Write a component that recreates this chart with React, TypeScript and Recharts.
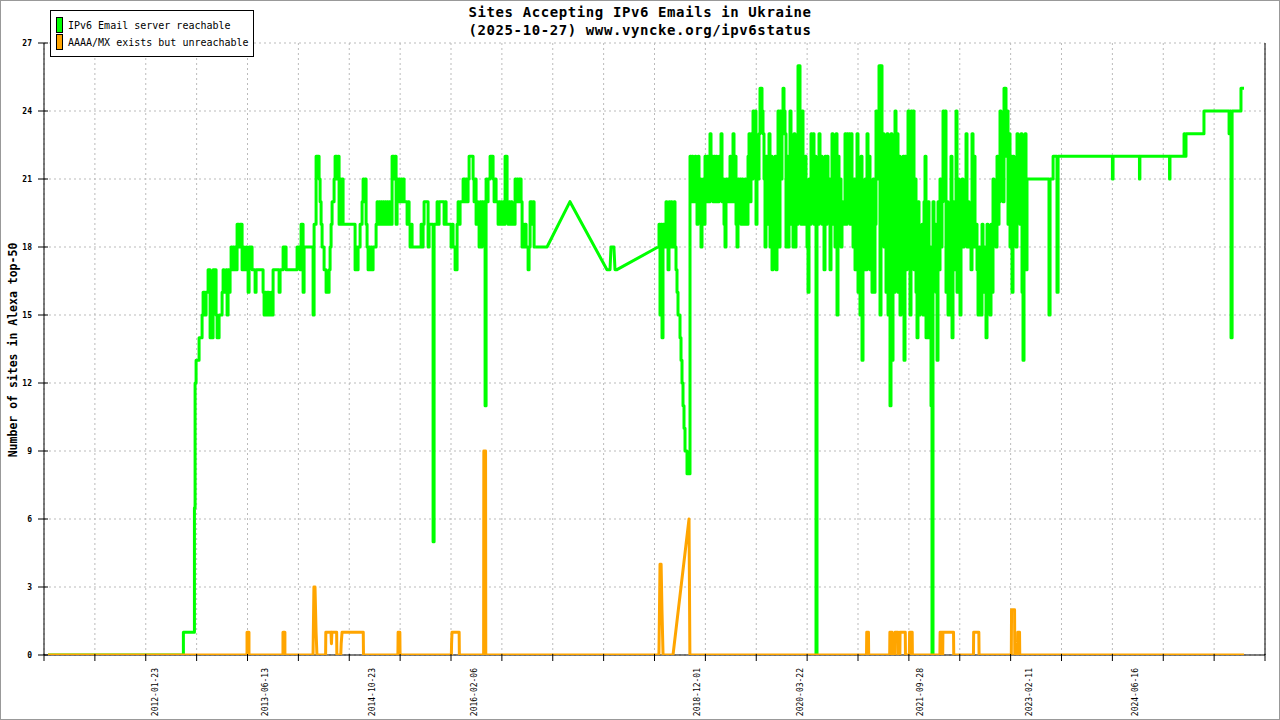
import React from 'react';
import { LineChart, Line, XAxis, YAxis, CartesianGrid, ReferenceLine } from 'recharts';

// x values are days since BASE_DATE
const BASE_DATE = '2010-08-28';
const DOMAIN_DAYS = 5641;
const SAMPLE_DAYS = 4.62;

const X_LABEL_DATES = ['2012-01-23', '2013-06-13', '2014-10-23', '2016-02-06', '2018-12-01', '2020-03-22', '2021-09-28', '2023-02-11', '2024-06-16'];
const Y_TICKS = [0, 3, 6, 9, 12, 15, 18, 21, 24, 27];

// IPv6 Email server reachable
const greenLeadDays = [18.5, 642, 644, 693, 695];
const greenLeadValues = [0, 0, 1, 1, 6.5];

const GREEN_BLOCK1_START = 698;
const greenBlock1 = [
  12, 13, 13, 13, 14, 14, 14, 15, 16, 16,
  15, 16, 16, 17, 17, 14, 14, 14, 17, 17,
  17, 15, 14, 14, 15, 15, 15, 16, 17, 16,
  16, 17, 15, 17, 16, 17, 18, 17, 18, 17,
  18, 17, 19, 19, 18, 19, 19, 17, 18, 17,
  17, 18, 17, 16, 18, 18, 18, 17, 17, 17,
  16, 17, 17, 17, 17, 17, 17, 17, 16, 15,
  16, 15, 16, 16, 15, 15, 16, 15, 17, 17,
  17, 17, 17, 17, 16, 17, 17, 17, 18, 18,
  18, 17, 17, 17, 17, 17, 17, 17, 17, 17,
  17, 17, 18, 18, 18, 17, 19, 19, 16, 18,
  18, 18, 18, 18, 18, 18, 18, 18, 15, 19,
  19, 22, 22, 22, 21, 20, 19, 18, 18, 17,
  17, 16, 16, 16, 17, 18, 19, 20, 20, 21,
  22, 22, 21, 22, 19, 21, 19, 21, 19, 19,
  19, 19, 19, 19, 19, 19, 19, 19, 19, 19,
  17, 18, 17, 18, 18, 19, 19, 20, 21, 20,
  21, 19, 18, 17, 18, 17, 18, 17, 18, 18,
  18, 19, 20, 19, 20, 19, 20, 19, 20, 19,
  20, 19, 20, 19, 20, 19, 19, 22, 22, 21,
  22, 19, 21, 20, 21, 20, 21, 20, 21, 20,
  20, 20, 19, 20, 19, 18, 19, 18, 18, 18,
  18, 18, 18, 18, 18, 18, 19, 18, 19, 20,
  20, 20, 20, 18, 19, 19, 19, 19, 5, 19,
  19, 19, 20, 19, 20, 20, 20, 20, 20, 19,
  20, 19, 19, 19, 19, 19, 18, 19, 18, 18,
  17, 17, 19, 20, 19, 20, 20, 20, 21, 21,
  20, 21, 20, 21, 22, 22, 22, 22, 21, 20,
  21, 19, 20, 19, 18, 20, 18, 20, 19, 20,
  11, 21, 20, 21, 21, 22, 22, 22, 21, 20,
  21, 20, 20, 19, 20, 19, 20, 19, 20, 19,
  22, 22, 20, 19, 20, 19, 20, 19, 19, 19,
  21, 20, 21, 20, 21, 21, 20, 18, 19, 18,
  19, 18, 18, 17, 18, 20, 20, 19, 20, 18, 18,
];

const greenMidDays = [2324, 2430, 2601, 2615, 2619.5, 2633, 2638, 2647];
const greenMidValues = [18, 20, 17, 17, 18, 18, 17, 17];

const GREEN_BLOCK2_START = 2836.7;
const greenBlock2 = [
  18, 19, 15, 19, 14, 19, 19, 18, 20, 19, 17, 20, 18, 20, 19, 18,
  20, 18, 17, 16, 15, 15, 14, 13, 12, 11, 10, 9, 9, 8, 8, 8,
  22, 20, 22, 21, 20, 22, 21, 19, 22, 20,
  21, 18, 20, 21, 19, 22, 20, 22, 21, 20,
  23, 21, 22, 20, 22, 20, 22, 21, 20, 22,
  21, 23, 20, 21, 19, 18, 21, 20, 21, 20,
  22, 20, 21, 23, 20, 22, 19, 18, 21, 20,
  21, 19, 21, 20, 19, 21, 20, 19, 22, 23,
  20, 23, 21, 24, 22, 24, 19, 22, 21, 23,
  25, 25, 24, 23, 21, 18, 22, 19, 21, 23,
  18, 22, 17, 21, 18, 22, 17, 20, 24, 18,
  24, 21, 23, 25, 24, 23, 18, 22, 18, 21,
  24, 19, 22, 18, 23, 18, 21, 19, 26, 26,
  24, 19, 24, 22, 19, 22, 20, 18, 16, 21,
  19, 23, 20, 23, 19, 22, 0, 19, 19, 23,
  20, 22, 19, 21, 17, 22, 19, 22, 20, 21,
  17, 20, 23, 19, 21, 18, 23, 15, 22, 19,
  21, 18, 20, 19, 20, 23, 19, 23, 20, 23,
  19, 23, 21, 18, 21, 17, 21, 23, 16, 20,
  15, 22, 13, 20, 17, 21, 17, 23, 19, 22,
  17, 20, 16, 21, 16, 19, 24, 21, 23, 26,
  15, 26, 21, 23, 18, 22, 16, 23, 15, 20,
  11, 23, 13, 21, 16, 24, 17, 23, 16, 22,
  15, 20, 18, 22, 13, 22, 17, 20, 24, 18,
  15, 24, 19, 24, 17, 21, 16, 14, 20, 15,
  18, 16, 19, 15, 20, 22, 14, 19, 20, 14,
  18, 11, 0, 20, 17, 19, 16, 13, 20, 17,
  21, 18, 20, 24, 21, 24, 16, 20, 15, 19,
  15, 22, 14, 20, 17, 19, 24, 16, 21, 17,
  15, 19, 21, 18, 20, 19, 23, 18, 20, 18,
  19, 17, 23, 18, 22, 18, 19, 17, 15, 18,
  17, 15, 19, 16, 18, 17, 14, 19, 16, 18,
  15, 19, 16, 21, 19, 20, 18, 22, 19, 20,
  24, 21, 23, 20, 25, 25, 22, 24, 19, 23,
  18, 22, 16, 22, 19, 21, 18, 23, 20, 22,
  19, 23, 16, 13, 20, 23, 17, 21, 21,
];

const greenTailDays = [4638, 4643, 4648, 4657, 4662, 4675, 4680, 4685, 4934, 4936, 4939, 5059, 5061, 5063, 5197, 5200, 5202, 5262, 5267, 5271, 5276, 5355, 5359, 5470, 5475, 5479, 5484, 5489, 5521, 5530, 5544];
const greenTailValues = [21, 15, 21, 21, 22, 22, 16, 22, 22, 21, 22, 22, 21, 22, 22, 21, 22, 22, 23, 22, 23, 23, 24, 24, 23, 24, 14, 24, 24, 25, 25];

// AAAA/MX exists but unreachable
const orangeDays = [
  18.5,
  938, 938, 947, 947,
  1104, 1104, 1113, 1113,
  1243, 1247, 1252, 1257, 1261,
  1301, 1302, 1326, 1328, 1330, 1352, 1353,
  1371, 1373, 1377, 1475, 1476,
  1635, 1636, 1644, 1645,
  1882, 1883, 1885, 1918, 1919,
  2031, 2032, 2040, 2041,
  2841, 2846, 2851, 2855, 2860,
  2906, 2980, 2984,
  3800, 3801, 3809, 3810,
  3907, 3908, 3918, 3919,
  3931, 3932, 3945, 3946,
  3954, 3955, 3979, 3980,
  3998, 3999, 4011, 4012,
  4139, 4140, 4148, 4149, 4152, 4153, 4202, 4203,
  4294, 4295, 4319, 4320,
  4469, 4470, 4484, 4485,
  4498, 4499, 4507, 4508,
  5544,
];
const orangeValues = [
  0,
  0, 1, 1, 0,
  0, 1, 1, 0,
  0, 3, 3, 1, 0,
  0, 1, 1, 0.5, 1, 1, 0,
  0, 0.5, 1, 1, 0,
  0, 1, 1, 0,
  0, 0.5, 1, 1, 0,
  0, 9, 9, 0,
  0, 4, 4, 2, 0,
  0, 6, 0,
  0, 1, 1, 0,
  0, 1, 1, 0,
  0, 1, 1, 0,
  0, 1, 1, 0,
  0, 1, 1, 0,
  0, 1, 1, 0, 0, 1, 1, 0,
  0, 1, 1, 0,
  0, 2, 2, 0,
  0, 1, 1, 0,
  0,
];

type Pt = { d: number; v: number };
const pairs = (days: number[], vals: number[]): Pt[] => days.map((d, i) => ({ d, v: vals[i] }));
const block = (start: number, vals: number[]): Pt[] => vals.map((v, i) => ({ d: start + i * SAMPLE_DAYS, v }));

const block1 = block(GREEN_BLOCK1_START, greenBlock1);
const block2 = block(GREEN_BLOCK2_START, greenBlock2);
const greenStepA: Pt[] = [...pairs(greenLeadDays, greenLeadValues), ...block1];
const greenMid: Pt[] = [block1[block1.length - 1], ...pairs(greenMidDays, greenMidValues), block2[0]];
const greenStepB: Pt[] = [...block2, ...pairs(greenTailDays, greenTailValues)];
const orangeData: Pt[] = pairs(orangeDays, orangeValues);

const dayOf = (s: string) => (Date.parse(s + 'T00:00:00Z') - Date.parse(BASE_DATE + 'T00:00:00Z')) / 86400000;
const labelDays = X_LABEL_DATES.map(dayOf);
const xTicks = Array.from({ length: 25 }, (_, k) => (k * DOMAIN_DAYS) / 24);

const labelFor = (v: number) => {
  let best = 0;
  labelDays.forEach((d, i) => {
    if (Math.abs(d - v) < Math.abs(labelDays[best] - v)) best = i;
  });
  return X_LABEL_DATES[best];
};

const MONO = '"DejaVu Sans Mono", monospace';

const YTick = (props: any) => {
  const { x, y, payload } = props;
  return (
    <g>
      <line x1={x - 6} x2={x + 4} y1={y} y2={y} stroke="#000" strokeWidth={1} />
      <text x={x - 12} y={y} dy="0.35em" textAnchor="end" fontFamily={MONO} fontSize={8} fontWeight="bold" fill="#000">
        {payload.value}
      </text>
    </g>
  );
};

const XTickMark = (props: any) => {
  const { x, y } = props;
  return <line x1={x} x2={x} y1={y - 1} y2={y + 6} stroke="#000" strokeWidth={1} />;
};

const XLabel = (props: any) => {
  const { x, y, payload } = props;
  const label = labelFor(payload.value);
  return (
    <text
      x={x}
      y={y + 1}
      dy="0.35em"
      textAnchor="end"
      transform={`rotate(-90 ${x} ${y + 1})`}
      fontFamily={MONO}
      fontSize={8}
      fill="#000"
    >
      {label}
    </text>
  );
};

const lineCommon = {
  dataKey: 'v',
  strokeWidth: 3,
  dot: false,
  activeDot: false,
  isAnimationActive: false,
  strokeLinejoin: 'round' as const,
};

export default function App() {
  return (
    <div style={{ position: 'absolute', left: 0, top: 0, width: 1280, height: 720, background: '#fff', overflow: 'hidden' }}>
      <LineChart width={1280} height={720} margin={{ top: 43, right: 15, bottom: 0, left: 0 }}>
        <CartesianGrid stroke="#bbbbbb" strokeDasharray="2 3" />
        <XAxis
          dataKey="d"
          type="number"
          domain={[0, DOMAIN_DAYS]}
          ticks={xTicks}
          interval={0}
          height={12}
          tickSize={0}
          tickMargin={0}
          tickLine={false}
          axisLine={false}
          tick={<XTickMark />}
          allowDataOverflow
        />
        <XAxis
          xAxisId="labels"
          dataKey="d"
          type="number"
          domain={[0, DOMAIN_DAYS]}
          ticks={labelDays}
          interval={0}
          height={53}
          tickSize={0}
          tickMargin={0}
          tickLine={false}
          axisLine={false}
          tick={<XLabel />}
          allowDataOverflow
        />
        <YAxis
          type="number"
          domain={[0, 27]}
          ticks={Y_TICKS}
          interval={0}
          width={44}
          tickSize={0}
          tickMargin={0}
          tickLine={false}
          axisLine={{ stroke: '#000' }}
          tick={<YTick />}
          allowDataOverflow
        />
        <ReferenceLine x={DOMAIN_DAYS} stroke="#000" strokeWidth={1} />
        <ReferenceLine segment={[{ x: 0, y: 0 }, { x: DOMAIN_DAYS, y: 0 }]} stroke="#000" strokeWidth={1} />
        <Line {...lineCommon} data={greenStepA} type="stepAfter" stroke="#00ff00" />
        <Line {...lineCommon} data={greenMid} type="linear" stroke="#00ff00" />
        <Line {...lineCommon} data={greenStepB} type="stepAfter" stroke="#00ff00" />
        <Line {...lineCommon} data={orangeData} xAxisId="labels" type="linear" stroke="#ffa500" />
      </LineChart>

      {/* Title */}
      <div style={{ position: 'absolute', left: 0, top: 4, width: 1280, textAlign: 'center', fontFamily: MONO, fontWeight: 'bold', fontSize: 14, letterSpacing: 0.6, lineHeight: '17.5px', color: '#000' }}>
        <div>Sites Accepting IPv6 Emails in Ukraine</div>
        <div>(2025-10-27) www.vyncke.org/ipv6status</div>
      </div>

      {/* Y axis title */}
      <svg style={{ position: 'absolute', left: 0, top: 0 }} width={30} height={720}>
        <text x={13} y={350} dy="0.35em" textAnchor="middle" transform="rotate(-90 13 350)" fontFamily={MONO} fontWeight="bold" fontSize={11.5} fill="#000">
          Number of sites in Alexa top-50
        </text>
      </svg>

      {/* Legend */}
      <div style={{ position: 'absolute', left: 50, top: 10, width: 204, height: 47, boxSizing: 'border-box', border: '1px solid #000', background: '#fff', fontFamily: MONO, fontSize: 10, color: '#000' }}>
        <div style={{ position: 'absolute', left: 5, top: 6, width: 7, height: 16, boxSizing: 'border-box', border: '1px solid #000', background: '#00ff00' }} />
        <div style={{ position: 'absolute', left: 17, top: 9, lineHeight: '12px', whiteSpace: 'nowrap' }}>IPv6 Email server reachable</div>
        <div style={{ position: 'absolute', left: 5, top: 23, width: 7, height: 16, boxSizing: 'border-box', border: '1px solid #000', background: '#ffa500' }} />
        <div style={{ position: 'absolute', left: 17, top: 26, lineHeight: '12px', whiteSpace: 'nowrap' }}>AAAA/MX exists but unreachable</div>
      </div>

      {/* Outer frame */}
      <div style={{ position: 'absolute', left: 0, top: 0, width: 1280, height: 720, boxSizing: 'border-box', border: '1px solid #999', pointerEvents: 'none' }} />
    </div>
  );
}
